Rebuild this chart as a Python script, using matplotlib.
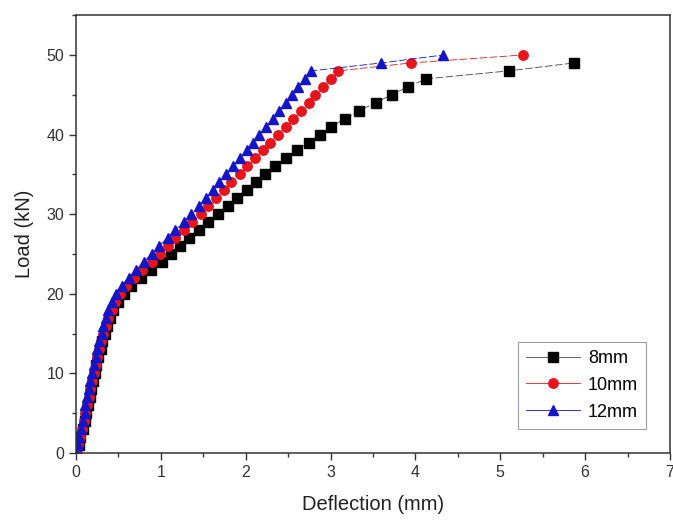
import matplotlib
matplotlib.use("Agg")
import matplotlib.pyplot as plt
from matplotlib.ticker import MultipleLocator

plt.rcParams['font.family'] = ['Liberation Sans', 'DejaVu Sans']

# load steps (kN) and measured deflections (mm) for each bar diameter
load_8mm = list(range(0, 48)) + [48, 49]
defl_8mm = [0.00, 0.03, 0.05, 0.08, 0.10, 0.12, 0.14, 0.16, 0.18, 0.20,
            0.22, 0.24, 0.26, 0.29, 0.31, 0.34, 0.37, 0.40, 0.44, 0.49,
            0.56, 0.65, 0.76, 0.88, 1.01, 1.12, 1.22, 1.33, 1.45, 1.56,
            1.67, 1.79, 1.90, 2.01, 2.12, 2.23, 2.34, 2.47, 2.60, 2.74,
            2.87, 3.01, 3.17, 3.34, 3.53, 3.72, 3.91, 4.13, 5.10, 5.87]

load_10mm = list(range(0, 49)) + [49, 50]
defl_10mm = [0.00, 0.02, 0.05, 0.07, 0.09, 0.11, 0.13, 0.15, 0.17, 0.19,
             0.21, 0.23, 0.25, 0.27, 0.29, 0.32, 0.35, 0.38, 0.42, 0.46,
             0.52, 0.59, 0.68, 0.78, 0.89, 0.99, 1.08, 1.17, 1.27, 1.37,
             1.47, 1.56, 1.65, 1.74, 1.83, 1.93, 2.02, 2.11, 2.20, 2.29,
             2.38, 2.47, 2.56, 2.65, 2.74, 2.82, 2.91, 3.00, 3.09, 3.95, 5.27]

load_12mm = list(range(0, 49)) + [49, 50]
defl_12mm = [0.00, 0.02, 0.04, 0.06, 0.08, 0.10, 0.11, 0.13, 0.15, 0.17,
             0.19, 0.21, 0.23, 0.25, 0.27, 0.30, 0.32, 0.35, 0.38, 0.42,
             0.47, 0.54, 0.62, 0.71, 0.80, 0.89, 0.98, 1.08, 1.17, 1.27,
             1.36, 1.45, 1.53, 1.61, 1.69, 1.77, 1.85, 1.93, 2.01, 2.09,
             2.16, 2.24, 2.32, 2.39, 2.47, 2.54, 2.62, 2.70, 2.77, 3.60, 4.33]

series = [
    ("8mm", defl_8mm, load_8mm, "black", "s", "#444444"),
    ("10mm", defl_10mm, load_10mm, "#e8141b", "o", "#e8141b"),
    ("12mm", defl_12mm, load_12mm, "#1414c8", "^", "#1414c8"),
]

fig = plt.figure(figsize=(6.73, 5.23), dpi=100)
ax = fig.add_axes([0.113, 0.134, 0.8825, 0.837])

for name, x, y, color, marker, lcolor in series:
    ax.plot(x, y, color=lcolor, lw=0.6, ls=(0, (9, 3)),
            marker=marker, markersize=6.8 if marker != "^" else 7.3,
            markerfacecolor=color, markeredgecolor=color, label=name)

ax.set_xlim(0, 7)
ax.set_ylim(0, 55)
ax.xaxis.set_major_locator(MultipleLocator(1))
ax.xaxis.set_minor_locator(MultipleLocator(0.5))
ax.yaxis.set_major_locator(MultipleLocator(10))
ax.yaxis.set_minor_locator(MultipleLocator(5))
ax.tick_params(which='major', direction='out', length=5, width=1,
               labelsize=11.5, color='#333333', labelcolor='#333333')
ax.tick_params(which='minor', direction='out', length=3, width=1,
               color='#333333')
for s in ax.spines.values():
    s.set_linewidth(1.1)
    s.set_color('#333333')

ax.set_xlabel("Deflection (mm)", fontsize=14.5, labelpad=11, color='#222222')
ax.set_ylabel("Load (kN)", fontsize=14.5, labelpad=9, color='#222222')

leg = ax.legend(loc='lower right', bbox_to_anchor=(0.96, 0.055),
                fontsize=13, frameon=True, fancybox=False,
                handlelength=3.0, handletextpad=0.45, labelspacing=0.55,
                borderpad=0.45, borderaxespad=0)
leg.get_frame().set_edgecolor('#888888')
leg.get_frame().set_linewidth(0.8)
for ln in leg.get_lines():
    ln.set_linestyle('-')

fig.savefig("out.png", dpi=100)
